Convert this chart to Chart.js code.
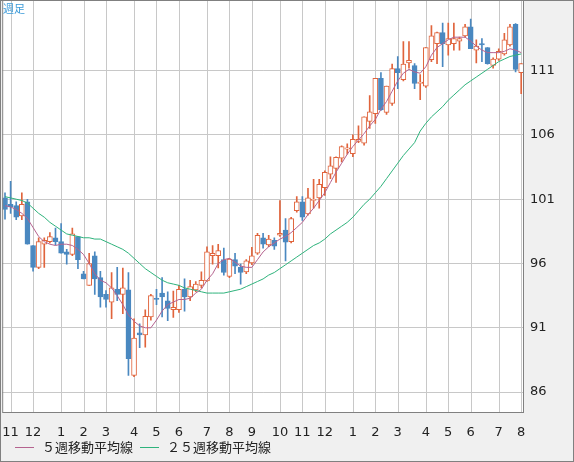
<!DOCTYPE html>
<html><head><meta charset="utf-8">
<script src="https://cdn.jsdelivr.net/npm/chart.js@4"></script>
<style>html,body{margin:0;padding:0;background:#f0f0f0;}#wrap{width:574px;height:462px;position:relative;}</style>
</head><body><div id="wrap"><canvas id="c" width="574" height="462"></canvas></div>
<script>
const openV=[101.1,100.6,100.5,99.7,100.8,97.4,95.7,97.5,97.7,98.0,97.7,96.9,96.7,98.1,95.2,94.3,96.6,94.9,93.6,93.0,94.0,93.6,93.95,87.3,90.6,90.45,91.85,93.3,93.7,93.1,92.4,92.4,94.0,93.4,93.95,94.3,94.65,96.6,96.6,96.3,95.0,96.3,95.7,95.35,96.05,96.8,98.0,97.45,97.8,98.2,98.6,97.7,100.1,100.8,99.85,100.9,101.1,101.9,102.95,103.4,104.2,104.9,104.55,105.5,105.35,107.05,107.65,110.4,107.75,108.45,111.15,110.3,111.6,111.4,110.0,109.8,111.85,113.1,113.95,113.0,113.1,113.3,113.7,114.4,112.6,113.1,112.8,111.4,111.9,112.3,113.0,114.6,110.85];
const highV=[101.5,102.4,100.8,101.5,101.0,97.4,98.0,98.0,98.4,98.75,99.1,97.1,98.75,98.1,95.4,96.8,96.9,95.4,93.9,95.3,95.7,95.65,95.3,91.7,91.3,92.4,93.6,94.0,94.9,93.8,93.85,94.3,94.8,94.7,94.6,95.35,97.3,97.4,97.5,97.2,96.4,96.8,95.95,96.3,97.25,98.35,98.35,98.2,98.0,100.9,99.5,99.6,101.2,101.2,101.85,102.55,102.55,103.2,104.3,104.3,105.15,105.3,106.0,106.7,107.4,109.05,110.4,110.85,109.8,111.5,112.1,113.25,113.25,111.55,110.7,112.8,114.5,114.0,114.7,114.7,114.7,113.6,114.6,115.0,113.4,113.5,112.8,112.0,112.7,113.9,114.6,114.65,111.55];
const lowV=[99.45,99.9,99.4,99.4,97.5,95.4,95.6,95.7,97.6,97.45,96.8,95.95,96.6,95.6,94.8,94.3,93.6,92.6,92.6,91.7,93.1,92.1,87.3,87.2,89.45,89.5,91.6,92.8,91.85,91.55,91.8,92.2,92.3,93.1,93.8,94.1,94.6,95.95,95.65,95.1,94.9,95.2,94.4,95.2,95.9,96.7,97.2,97.3,97.1,98.1,96.2,97.6,100.0,99.35,99.75,100.3,100.3,101.3,102.6,102.3,103.9,104.5,104.3,105.4,105.2,106.5,106.9,107.9,107.6,108.3,109.6,110.2,111.2,109.6,108.75,109.7,111.7,111.55,111.3,112.2,112.6,112.6,113.6,112.7,111.6,111.7,111.5,111.2,111.8,112.2,112.9,110.9,109.2];
const closeV=[100.2,100.4,99.6,100.6,97.5,95.7,97.7,97.8,98.1,97.7,96.8,96.7,98.3,96.3,94.8,96.0,94.8,93.4,93.2,94.1,93.6,94.1,88.6,90.2,90.45,91.9,93.5,93.2,93.4,92.5,92.6,94.0,93.4,94.2,94.4,94.7,96.9,96.8,97.0,95.3,96.35,95.8,95.3,96.2,96.6,98.2,97.5,97.9,97.35,98.35,97.65,99.5,100.8,99.6,101.1,101.0,102.15,103.1,103.6,104.25,105.1,105.0,105.65,105.65,107.4,107.8,110.4,107.95,109.8,111.15,110.85,111.5,111.8,110.0,110.1,112.8,113.7,113.95,113.1,113.5,113.5,113.5,114.4,112.7,112.9,113.0,111.55,111.9,112.5,113.4,114.4,111.1,111.55];
const ma5=[100.5,100.4,100.2,99.9,99.5,98.8,98.1,97.7,97.5,97.4,97.5,97.5,97.4,97.1,96.7,96.0,95.2,94.7,94.5,94.1,93.5,92.8,92.0,91.5,91.15,91.0,91.0,91.6,92.3,92.8,93.0,93.2,93.2,93.3,93.7,94.0,94.7,95.2,96.0,96.3,96.4,96.1,95.8,95.7,95.7,96.3,96.9,97.3,97.6,97.9,98.1,98.4,98.8,99.2,99.8,100.3,100.9,101.5,102.3,103.1,103.8,104.5,105.1,105.6,106.1,106.7,107.2,108.0,108.6,109.4,110.2,110.8,111.1,110.9,110.8,111.3,112.2,112.8,113.1,113.4,113.6,113.6,113.6,113.3,112.9,112.6,112.4,112.4,112.4,112.5,112.7,112.6,112.4];
const ma25=[101.2,101.1,101.0,100.9,100.7,100.3,99.9,99.6,99.2,98.9,98.6,98.3,98.2,98.1,98.0,98.0,97.9,97.9,97.7,97.5,97.3,97.1,96.8,96.4,96.0,95.6,95.3,95.0,94.7,94.5,94.4,94.3,94.1,94.0,93.9,93.8,93.7,93.7,93.7,93.7,93.8,93.9,94.0,94.2,94.4,94.6,94.8,95.1,95.3,95.6,95.9,96.2,96.5,96.8,97.1,97.4,97.6,97.9,98.3,98.6,98.9,99.2,99.6,100.1,100.6,101.0,101.5,102.0,102.6,103.2,103.8,104.4,104.9,105.4,106.3,106.9,107.4,107.8,108.2,108.7,109.1,109.5,109.9,110.2,110.5,110.8,111.1,111.4,111.7,111.9,112.1,112.2,112.3];
const monthLabels=['11','12','1','2','3','4','5','6','7','8','9','10','11','12','1','2','3','4','5','6','7','8'];
const monthIdx=[1,5,10,14,18,23,27,31,36,40,44,49,53,57,62,66,70,75,79,83,88,92];
const yTicks=[86,91,96,101,106,111];

const labels=openV.map((_,i)=>{const k=monthIdx.indexOf(i);return k>=0?monthLabels[k]:'';});
const up=openV.map((o,i)=>closeV[i]>=o);
const ORANGE='#e0643c',BLUE='#4a88c0';
const plug={id:'plug',
 beforeDraw(ch){const a=ch.chartArea,c=ch.ctx;c.save();c.fillStyle='#fff';c.fillRect(a.left,0,a.right-a.left,a.bottom);c.restore();},
 beforeDatasetsDraw(ch){const a=ch.chartArea,c=ch.ctx,xs=ch.scales.x;c.save();c.strokeStyle='#c8c8c8';c.lineWidth=1;
  monthIdx.forEach(i=>{const px=Math.round(xs.getPixelForValue(i))+0.5;c.beginPath();c.moveTo(px,0);c.lineTo(px,a.bottom);c.stroke();});c.restore();},
 afterDraw(ch){const a=ch.chartArea,c=ch.ctx;c.save();c.strokeStyle='#808080';c.lineWidth=1;c.strokeRect(a.left+0.5,0.5,a.right-a.left-1,a.bottom);
  c.strokeRect(0.5,0.5,573,461);
  c.fillStyle='#3a9ad9';c.font='11px "Noto Sans CJK JP"';c.textBaseline='top';c.fillText('週足',3,3);
  c.font='13px "Noto Sans CJK JP"';c.textBaseline='middle';
  let x=15;const yy=a.bottom+35;
  ch.data.datasets.slice(2).forEach(ds=>{c.strokeStyle=ds.borderColor;c.beginPath();c.moveTo(x,yy+0.5);c.lineTo(x+19,yy+0.5);c.stroke();
   c.fillStyle='#222';c.fillText(ds.label,x+27,yy);x+=125;});
  c.restore();}};
new Chart(document.getElementById('c'),{
 type:'bar',
 data:{labels,datasets:[
  {label:'wick',data:lowV.map((l,i)=>[l,highV[i]]),backgroundColor:up.map(u=>u?ORANGE:BLUE),barThickness:1,grouped:false,order:3},
  {label:'body',data:openV.map((o,i)=>[o,closeV[i]]),backgroundColor:up.map(u=>u?'#fff':BLUE),borderColor:up.map(u=>u?ORANGE:BLUE),borderWidth:1,borderSkipped:false,barThickness:5,minBarLength:1,grouped:false,order:2},
  {type:'line',label:'５週移動平均線',data:ma5,borderColor:'#b5638f',borderWidth:1,pointRadius:0,tension:0,order:1},
  {type:'line',label:'２５週移動平均線',data:ma25,borderColor:'#2eb37c',borderWidth:1,pointRadius:0,tension:0,order:1}
 ]},
 options:{responsive:false,animation:false,maintainAspectRatio:false,
  layout:{padding:{left:0,top:0,right:0,bottom:26}},
  plugins:{tooltip:{enabled:false},legend:{display:false}},
  scales:{
   x:{grid:{display:false},border:{display:false},
      ticks:{autoSkip:false,maxRotation:0,color:'#222',font:{size:13,family:'"DejaVu Sans"'},padding:5},afterFit(s){s.height=24;}},
   y:{position:'right',min:84.45,max:115.42,afterBuildTicks(s){s.ticks=yTicks.map(v=>({value:v}));},
      grid:{color:'#c8c8c8',drawTicks:false},border:{display:false},
      ticks:{color:'#222',font:{size:13,family:'"DejaVu Sans"'},padding:6},afterFit(s){s.width=50;}}
  }},
 plugins:[plug]});
</script></body></html>
